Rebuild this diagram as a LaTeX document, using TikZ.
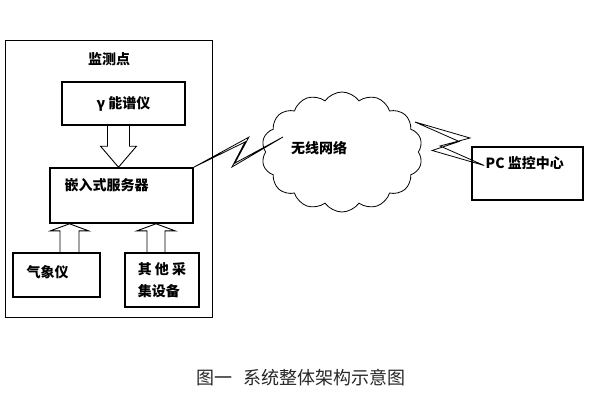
\documentclass[tikz,border=0pt]{standalone}
\usepackage{fontspec}
\setmainfont{Liberation Sans}
\newfontfamily\cjk{Noto Sans CJK SC}
\usetikzlibrary{positioning,calc}
\usetikzlibrary{shapes.symbols}

\begin{document}
\begin{tikzpicture}[x=1pt,y=-1pt,
  box/.style={draw,line width=1.6pt,inner sep=0pt},
  lbl/.style={font=\cjk\bfseries\fontsize{14}{22}\selectfont},
  fat/.style={draw,line width=0.9pt},
  bolt/.style={draw,line width=0.8pt,line join=miter}]

\useasboundingbox (0,0) rectangle (590,400);

\node[draw,line width=1.1pt,minimum width=207,minimum height=277,anchor=north west] (site) at (5,40) {};
\node[lbl,below=9pt of site.north] (title) {监测点};

\node[box,lbl,minimum width=123,minimum height=43] (gamma) at (123.5,103.5) {γ 能谱仪};
\node[box,minimum width=143,minimum height=55,
  label={[lbl,anchor=west,xshift=12pt,yshift=-18pt]north west:嵌入式服务器}] (server) at (121.5,195.5) {};
\node[box,minimum width=87,minimum height=44,
  label={[lbl,anchor=west,xshift=11pt,yshift=3pt]west:气象仪}] (weather) at (56.5,275) {};
\node[box,lbl,align=left,minimum width=74,minimum height=54] (other) at (162,280) {其 他 采\\集设备};

\node[box,minimum width=111,minimum height=53,
  label={[lbl,anchor=west,xshift=11pt,yshift=10pt]west:PC 监控中心}] (pc) at (527.5,173.5) {};

\node[cloud,draw,line width=0.8pt,cloud puffs=14,cloud puff arc=110,aspect=1.35,
  minimum width=161,minimum height=120,
  label={[lbl,xshift=-23pt,yshift=4pt]center:无线网络}] (net) at (342,152) {};

\coordinate (t1) at ($(gamma.south)+(-5,0)$);
\draw[fat] ($(t1)+(-11,0)$) -- ($(t1 |- server.north)+(-11,-21)$) -- ++(-7,0) -- (t1 |- server.north)
  -- ($(t1 |- server.north)+(18,-21)$) -- ++(-7,0) -- ($(t1)+(11,0)$);

\coordinate (t2) at ($(weather.north)+(13,0)$);
\draw[fat] ($(t2)+(-9.5,0)$) -- ($(t2 |- server.south)+(-9.5,7)$) -- ++(-9.5,0) -- (t2 |- server.south)
  -- ($(t2 |- server.south)+(19,7)$) -- ++(-9.5,0) -- ($(t2)+(9.5,0)$);

\coordinate (t3) at ($(other.north)+(-6,0)$);
\draw[fat] ($(t3)+(-9,0)$) -- ($(t3 |- server.south)+(-9,7)$) -- ++(-10,0) -- (t3 |- server.south)
  -- ($(t3 |- server.south)+(19,7)$) -- ++(-10,0) -- ($(t3)+(9,0)$);

\coordinate (w1) at ($(net.center)+(-59,-15)$);
\draw[bolt] (server.north east) -- ++(55,-30) -- ++(-14,26) -- (w1) -- ++(-51,30) -- ++(13,-25) -- cycle;

\coordinate (w2) at ($(net.center)+(73,-30)$);
\coordinate (w3) at ($(pc.west)+(13,-8)$);
\draw[bolt] (w2) -- ++(55,16) -- ++(-30,8) -- (w3) -- ++(-52,-15) -- ++(27,-9) -- cycle;

\node[font=\cjk\fontsize{18}{22}\selectfont,text=black!85] (caption) at (301,378) {图一\hspace{0.6em}系统整体架构示意图};
\end{tikzpicture}
\end{document}
